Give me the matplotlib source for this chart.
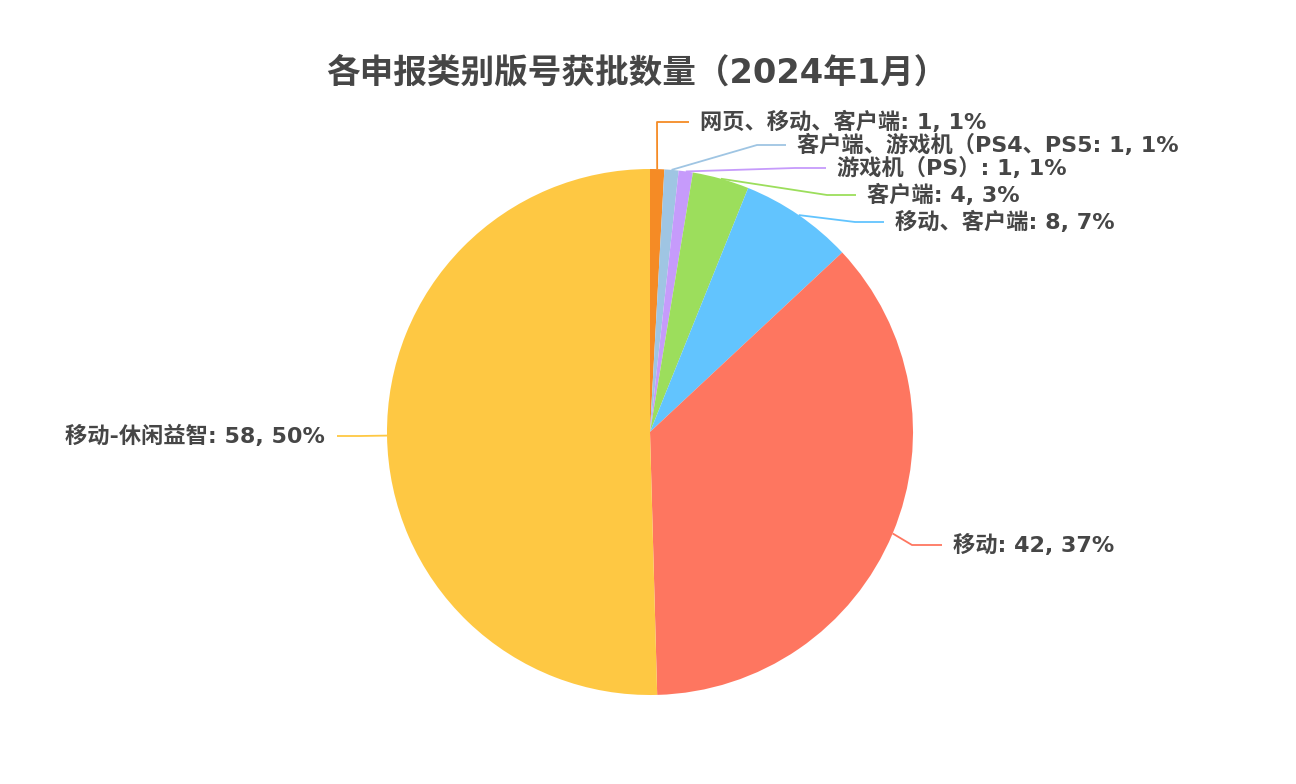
import numpy as np
import matplotlib
matplotlib.use("Agg")
import matplotlib.pyplot as plt

plt.rcParams['font.family'] = ['DejaVu Sans', 'Noto Sans CJK SC']

title = "各申报类别版号获批数量（2024年1月）"
categories = ["网页、移动、客户端", "客户端、游戏机（PS4、PS5", "游戏机（PS）", "客户端",
              "移动、客户端", "移动", "移动-休闲益智"]
values = [1, 1, 1, 4, 8, 42, 58]
colors = ["#F58B25", "#9FC5E3", "#C69BFB", "#9CDE5C", "#62C4FE", "#FE7660", "#FEC843"]

# layout (pixels, origin top-left)
W, H = 1296, 784
cx, cy, R = 650, 432, 263
label_y = [122, 145, 168, 195, 222, 545, 436]
elbow_x = [657, 757, 795, 827, 855, 912, 360]
text_x = [700, 797, 837, 867, 895, 953, 325]
label_ha = ["left", "left", "left", "left", "left", "left", "right"]
text_color = "#464646"

fig = plt.figure(figsize=(W / 100, H / 100), dpi=100)
ax = fig.add_axes([0, 0, 1, 1])

wedges, _ = ax.pie(values, colors=colors, startangle=90, counterclock=False,
                   center=(cx, H - cy), radius=R, frame=True,
                   wedgeprops=dict(linewidth=0))
ax.set_xlim(0, W)
ax.set_ylim(0, H)
ax.set_aspect('equal')
ax.axis('off')

total = sum(values)
for i, (w, cat, v) in enumerate(zip(wedges, categories, values)):
    ang = np.deg2rad((w.theta1 + w.theta2) / 2)
    x0 = cx + R * np.cos(ang)
    y0 = (H - cy) + R * np.sin(ang)
    ly = H - label_y[i]
    ex = elbow_x[i]
    if label_ha[i] == "left":
        hx = text_x[i] - 11
    else:
        hx = text_x[i] + 12
    ax.plot([x0, ex, hx], [y0, ly, ly], color=colors[i], lw=1.3,
            solid_capstyle='butt', zorder=1)
    pct = round(v / total * 100)
    ax.text(text_x[i], ly, f"{cat}: {v}, {pct}%", ha=label_ha[i], va='center',
            fontsize=16, fontweight='bold', color=text_color)

ax.text(637, H - 73, title, ha='center', va='center', fontsize=24.2,
        fontweight='bold', color=text_color)

fig.savefig("out.png", dpi=100, facecolor='white')
